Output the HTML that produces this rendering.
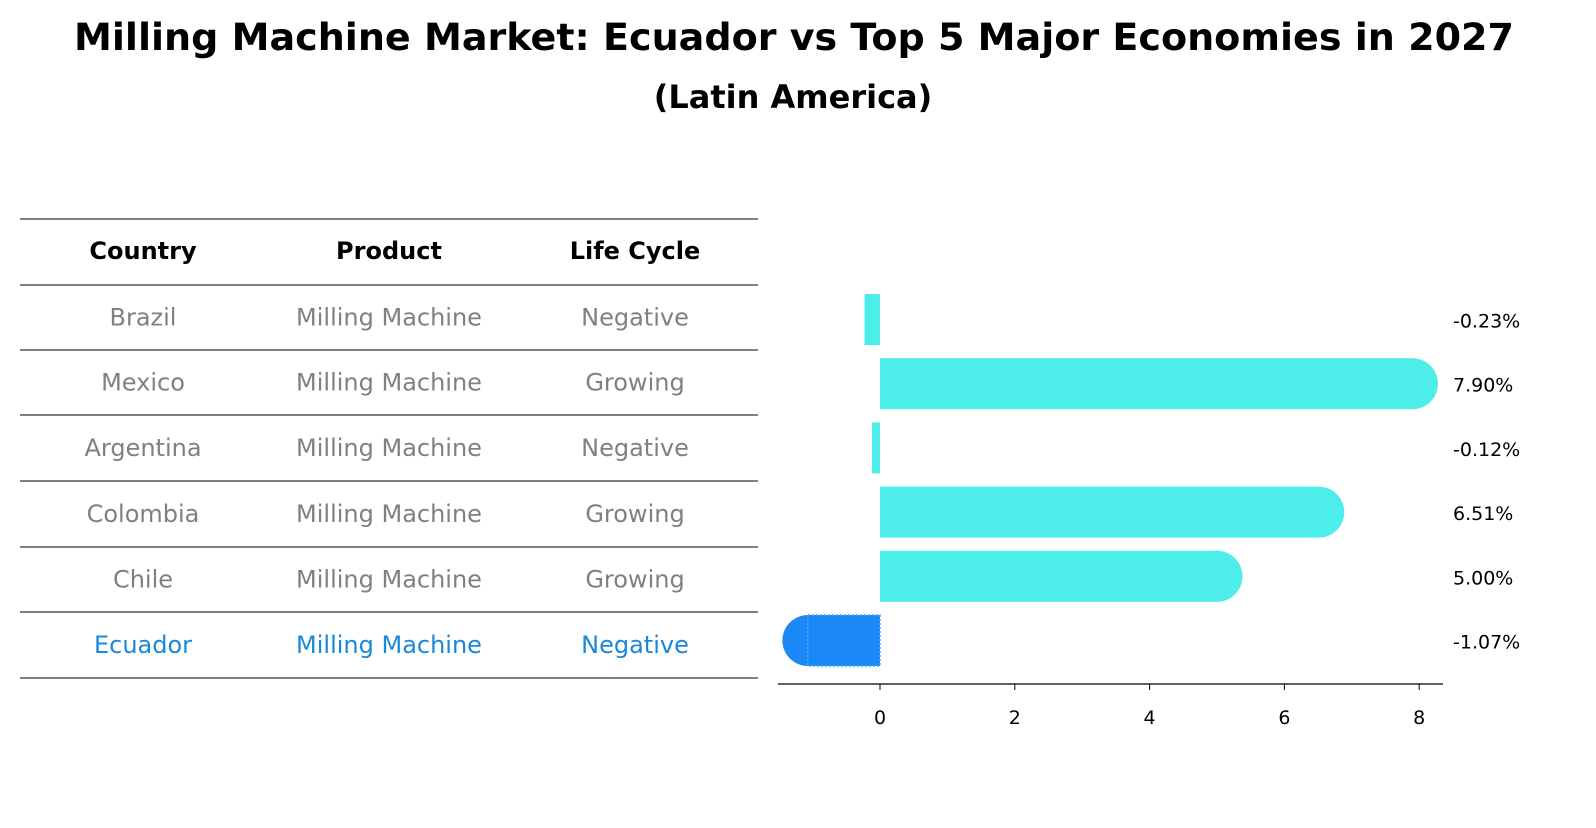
<!DOCTYPE html>
<html><head><meta charset="utf-8"><style>
body{margin:0;background:#fff;font-family:"Liberation Sans","DejaVu Sans",sans-serif;}
svg text{font-family:"DejaVu Sans","Liberation Sans",sans-serif;}
</style></head><body>
<svg id="c" width="1596" height="823" xmlns="http://www.w3.org/2000/svg">
<text x="794" y="50" text-anchor="middle" font-size="37" font-weight="bold" textLength="1440" lengthAdjust="spacingAndGlyphs">Milling Machine Market: Ecuador vs Top 5 Major Economies in 2027</text>
<text x="793" y="108" text-anchor="middle" font-size="32" font-weight="bold">(Latin America)</text>
<g id="tbl"></g>
<g id="bars"></g>
</svg>
<script>
const countries=["Brazil","Mexico","Argentina","Colombia","Chile","Ecuador"];
const products=["Milling Machine","Milling Machine","Milling Machine","Milling Machine","Milling Machine","Milling Machine"];
const lifecycle=["Negative","Growing","Negative","Growing","Growing","Negative"];
const values=[-0.23,7.90,-0.12,6.51,5.00,-1.07];
const valueLabels=["-0.23%","7.90%","-0.12%","6.51%","5.00%","-1.07%"];
const ticks=[0,2,4,6,8];
const NS="http://www.w3.org/2000/svg";
function mk(tag,attrs,parent,txt){const e=document.createElementNS(NS,tag);for(const k in attrs)e.setAttribute(k,attrs[k]);if(txt!==undefined)e.textContent=txt;parent.appendChild(e);return e;}
const tbl=document.getElementById('tbl');
const lineY=[219,285,350,415,481,547,612,678];
lineY.forEach(y=>{const l=mk('line',{x1:20,x2:758,y1:y,y2:y,stroke:'#000','stroke-width':1},tbl);

});
const colX=[143,389,635];
["Country","Product","Life Cycle"].forEach((h,i)=>{const t=mk('text',{x:colX[i],y:259,'text-anchor':'middle','font-size':24,'font-weight':'bold'},tbl,h);

});
countries.forEach((c,r)=>{const y=(lineY[r+1]+lineY[r+2])/2+8;const col=r===5?'#1a88d8':'#808080';
[c,products[r],lifecycle[r]].forEach((v,i)=>{const t=mk('text',{x:colX[i],y:y,'text-anchor':'middle','font-size':24,fill:col},tbl,v);

});});
const g=document.getElementById('bars');
const x0=880,ux=67.4;const X=v=>x0+v*ux;
const bandTop=294,step=64.2,bh=51;
const ax=mk('line',{x1:778,x2:1443,y1:684,y2:684,stroke:'#000','stroke-width':1.2},g);


ticks.forEach(t=>{const tl=mk('line',{x1:X(t),x2:X(t),y1:684,y2:690,stroke:'#000'},g);


const tt=mk('text',{x:X(t),y:724,'text-anchor':'middle','font-size':19},g,t);

});
values.forEach((v,i)=>{const y=bandTop+i*step;const fill=i===5?'#1a88f5':'#4deeea';
const a=Math.min(X(0),X(v)),w=Math.abs(X(v)-X(0));
const rc=mk('rect',{x:a,y:y,width:w,height:bh,fill:fill},g);


if(Math.abs(v)>0.5){const cap=mk('circle',{cx:X(v),cy:y+bh/2,r:bh/2,fill:fill},g);

}
if(i===5){const o=mk('rect',{x:a,y:y,width:w,height:bh,fill:'none',stroke:'#4da6ff','stroke-width':1.5,'stroke-dasharray':'2,2'},g);

}
const lt=mk('text',{x:1453,y:y+bh/2+8,'font-size':19},g,valueLabels[i]);

});
</script>
</body></html>
